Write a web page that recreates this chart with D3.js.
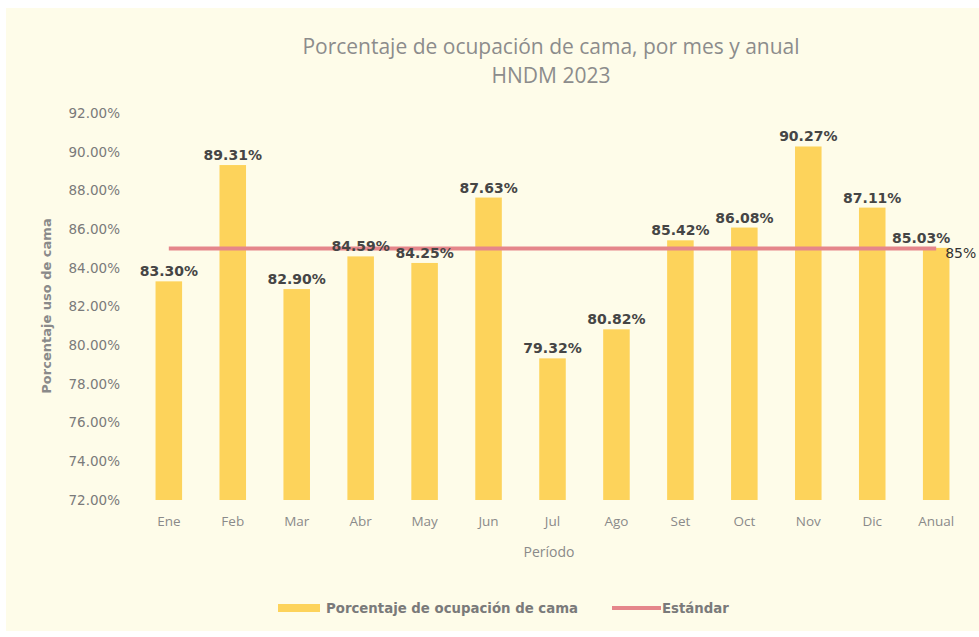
<!DOCTYPE html>
<html>
<head>
<meta charset="utf-8">
<script src="https://cdn.jsdelivr.net/npm/d3@7"></script>
<style>
  body { margin: 0; background: #ffffff; }
</style>
</head>
<body>
<script>

// chart data
var months = ["Ene", "Feb", "Mar", "Abr", "May", "Jun", "Jul", "Ago", "Set", "Oct", "Nov", "Dic", "Anual"];
var occupancy = [83.30, 89.31, 82.90, 84.59, 84.25, 87.63, 79.32, 80.82, 85.42, 86.08, 90.27, 87.11, 85.03];
var standard = [85, 85, 85, 85, 85, 85, 85, 85, 85, 85, 85, 85, 85];
var y_ticks = [72, 74, 76, 78, 80, 82, 84, 86, 88, 90, 92];

var width = 979, height = 637;

var svg = d3.select("body")
            .append("svg")
            .attr("width", width)
            .attr("height", height);

// cream background of the chart area
svg.append("rect")
   .attr("x", 6)
   .attr("y", 8)
   .attr("width", width - 6)
   .attr("height", height - 14)
   .attr("fill", "#fefce9");

// scales
var x_scale = d3.scaleBand()
    .domain(months)
    .range([137, 968])
    .paddingInner(0.585)
    .paddingOuter(0.29);

var y_scale = d3.scaleLinear()
    .domain([72, 92])
    .range([500, 113]);

// title
svg.append("text")
   .attr("x", 551)
   .attr("y", 54)
   .attr("text-anchor", "middle")
   .attr("font-family", "Open Sans, sans-serif")
   .attr("font-size", "21px")
   .attr("fill", "#8c8c8c")
   .text("Porcentaje de ocupación de cama, por mes y anual");

svg.append("text")
   .attr("x", 551)
   .attr("y", 83)
   .attr("text-anchor", "middle")
   .attr("font-family", "Open Sans, sans-serif")
   .attr("font-size", "21px")
   .attr("fill", "#8c8c8c")
   .text("HNDM 2023");

// y axis, labels only
var y_axis = d3.axisLeft(y_scale)
    .tickValues(y_ticks)
    .tickSize(0)
    .tickPadding(0)
    .tickFormat(function(d) { return d.toFixed(2) + "%"; });

var y_g = svg.append("g")
    .attr("transform", "translate(120,0)")
    .call(y_axis);
y_g.select(".domain").remove();
y_g.selectAll("text")
   .attr("font-family", "DejaVu Sans, sans-serif")
   .attr("font-size", "13.5px")
   .attr("fill", "#7a7a7a");

// x axis, labels only
var x_axis = d3.axisBottom(x_scale).tickSize(0).tickPadding(0);
var x_g = svg.append("g")
    .attr("transform", "translate(0,516)")
    .call(x_axis);
x_g.select(".domain").remove();
x_g.selectAll("text")
   .attr("font-family", "Open Sans, sans-serif")
   .attr("font-size", "13.5px")
   .attr("fill", "#8a8a8a");

// axis titles
svg.append("text")
   .attr("transform", "translate(51,306) rotate(-90)")
   .attr("text-anchor", "middle")
   .attr("font-family", "DejaVu Sans, sans-serif")
   .attr("font-size", "13px")
   .attr("font-weight", "bold")
   .attr("fill", "#8a8a8a")
   .text("Porcentaje uso de cama");

svg.append("text")
   .attr("x", 549)
   .attr("y", 557)
   .attr("text-anchor", "middle")
   .attr("font-family", "Open Sans, sans-serif")
   .attr("font-size", "14px")
   .attr("fill", "#8a8a8a")
   .text("Período");

// bars
svg.selectAll("rect.bar")
   .data(occupancy)
   .enter()
   .append("rect")
   .attr("class", "bar")
   .attr("x", function(d, i) { return x_scale(months[i]); })
   .attr("y", function(d) { return y_scale(d); })
   .attr("width", x_scale.bandwidth())
   .attr("height", function(d) { return y_scale(72) - y_scale(d); })
   .attr("fill", "#fdd35b");

// standard line
var line = d3.line()
    .x(function(d, i) { return x_scale(months[i]) + x_scale.bandwidth() / 2; })
    .y(function(d) { return y_scale(d); });

svg.append("path")
   .datum(standard)
   .attr("d", line)
   .attr("fill", "none")
   .attr("stroke", "#e5868b")
   .attr("stroke-width", 4);

// bar value labels
svg.selectAll("text.value")
   .data(occupancy)
   .enter()
   .append("text")
   .attr("class", "value")
   .attr("x", function(d, i) {
     var shift = (i == months.length - 1) ? -15 : 0;
     return x_scale(months[i]) + x_scale.bandwidth() / 2 + shift;
   })
   .attr("y", function(d) { return y_scale(d) - 5; })
   .attr("text-anchor", "middle")
   .attr("font-family", "DejaVu Sans, sans-serif")
   .attr("font-size", "14px")
   .attr("font-weight", "bold")
   .attr("fill", "#454545")
   .text(function(d) { return d.toFixed(2) + "%"; });

// label at the end of the standard line
var last = standard.length - 1;
svg.append("text")
   .attr("x", x_scale(months[last]) + x_scale.bandwidth() / 2 + 9)
   .attr("y", y_scale(standard[last]) + 10)
   .attr("font-family", "DejaVu Sans, sans-serif")
   .attr("font-size", "14px")
   .attr("fill", "#333333")
   .text(standard[last] + "%");

// legend
svg.append("rect")
   .attr("x", 278)
   .attr("y", 604)
   .attr("width", 42)
   .attr("height", 8)
   .attr("fill", "#fdd35b");

svg.append("text")
   .attr("x", 326)
   .attr("y", 613)
   .attr("font-family", "DejaVu Sans, sans-serif")
   .attr("font-size", "13.3px")
   .attr("font-weight", "bold")
   .attr("fill", "#7a7a7a")
   .text("Porcentaje de ocupación de cama");

svg.append("line")
   .attr("x1", 612)
   .attr("x2", 661)
   .attr("y1", 608)
   .attr("y2", 608)
   .attr("stroke", "#e5868b")
   .attr("stroke-width", 4);

svg.append("text")
   .attr("x", 662)
   .attr("y", 613)
   .attr("font-family", "DejaVu Sans, sans-serif")
   .attr("font-size", "13.3px")
   .attr("font-weight", "bold")
   .attr("fill", "#7a7a7a")
   .text("Estándar");

</script>
</body>
</html>
